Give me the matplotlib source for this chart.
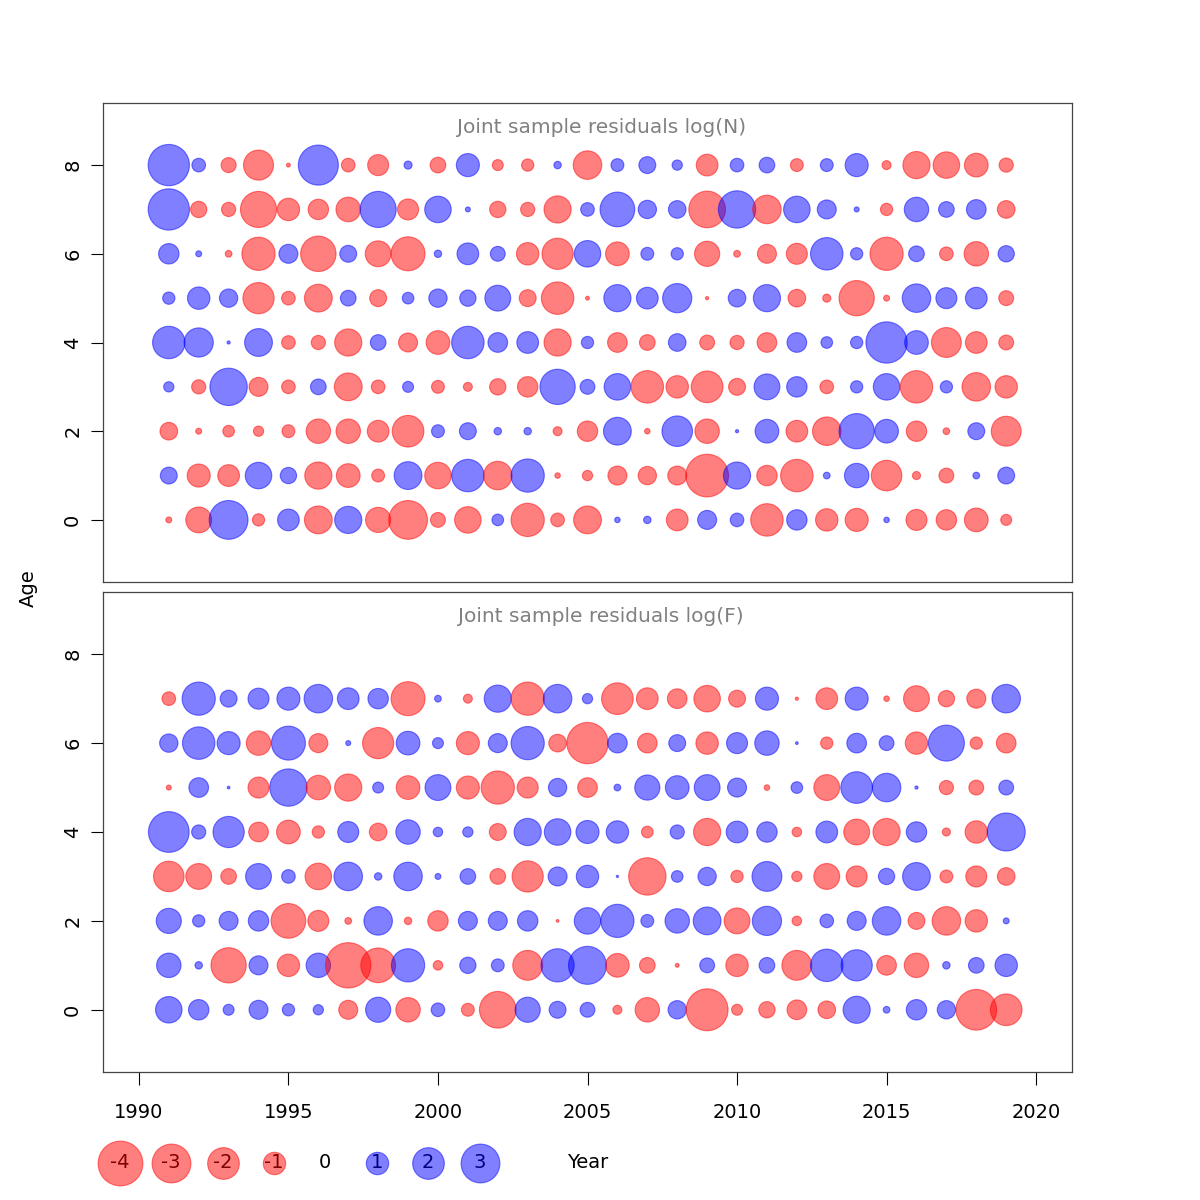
import matplotlib
matplotlib.use("Agg")
import matplotlib.pyplot as plt
import numpy as np

years = list(range(1991, 2020))

# joint sample residuals log(N), one list per age (0..8), years 1991-2019
resN = [
    [-0.07, -1.33, 3.0, -0.3, 0.94, -1.54, 1.47, -1.26, -3.0, -0.44, -1.4, 0.27, -2.2, -0.37, -1.54, 0.06, 0.11, -0.94, 0.72, 0.37, -2.1, 0.83, -1.0, -1.06, 0.06, -0.88, -0.83, -1.12, -0.24],
    [0.57, -1.06, -0.94, 1.4, 0.53, -1.47, -1.12, -0.33, 1.54, -1.4, 2.1, -1.62, 2.2, -0.06, -0.21, -0.72, -0.67, -0.72, -3.64, 1.47, -0.83, -2.1, 0.09, 1.19, -1.86, -0.13, -0.44, 0.09, 0.57],
    [-0.62, -0.07, -0.27, -0.21, -0.33, -1.19, -1.19, -0.94, -2.0, 0.33, 0.57, 0.11, 0.11, -0.16, -0.83, 1.54, -0.06, 1.86, -1.19, 0.02, 1.12, -0.94, -1.62, 2.48, 1.12, -0.83, -0.09, 0.57, -1.78],
    [0.21, -0.4, 2.78, -0.72, -0.37, 0.49, -1.54, -0.37, 0.24, -0.33, -0.16, -0.53, -0.83, 2.48, 0.44, 1.4, -2.1, -1.0, -2.0, -0.57, 1.33, 0.83, -0.37, 0.3, 1.4, -2.1, 0.3, -1.62, -1.0],
    [2.1, 1.7, 0.02, 1.54, -0.37, -0.4, -1.47, 0.49, -0.72, -1.12, 2.1, 0.77, 0.94, -1.47, 0.3, -0.77, -0.49, 0.62, -0.44, -0.4, -0.77, 0.77, 0.27, 0.3, 3.4, 1.12, -1.78, -0.94, -0.44],
    [0.3, 1.0, 0.67, -1.94, -0.37, -1.54, 0.49, -0.57, 0.27, 0.67, 0.53, 1.33, -0.57, -2.1, -0.03, 1.47, 0.94, 1.7, -0.02, 0.62, 1.47, -0.62, -0.13, -2.48, -0.07, 1.62, 0.88, 0.94, -0.44],
    [0.83, 0.07, -0.09, -2.2, 0.72, -2.5, 0.57, -1.33, -2.3, 0.11, 0.94, 0.44, -1.0, -1.94, 1.4, -1.12, 0.33, 0.3, -1.26, -0.09, -0.72, -0.88, 2.1, 0.3, -2.2, 0.49, -0.37, -1.19, 0.53],
    [3.4, -0.53, -0.4, -2.6, -1.0, -0.83, -1.2, 2.6, -0.88, 1.4, 0.05, -0.53, -0.4, -1.47, 0.37, 2.4, 0.67, 0.62, -2.68, 2.78, -1.62, 1.4, 0.72, 0.05, -0.3, 1.19, 0.49, 0.77, -0.62],
    [3.4, 0.37, -0.45, -1.8, -0.03, 3.2, -0.37, -0.88, 0.13, -0.49, 1.06, -0.24, -0.3, 0.11, -1.62, 0.33, 0.57, 0.21, -0.94, 0.37, 0.49, -0.33, 0.33, 1.06, -0.16, -1.47, -1.4, -1.12, -0.4],
]

# joint sample residuals log(F), one list per age (0..7)
resF = [
    [1.4, 0.83, 0.24, 0.72, 0.3, 0.21, -0.72, 1.26, -1.19, 0.37, -0.33, -2.68, 1.26, 0.57, 0.44, -0.16, -1.19, 0.67, -3.5, -0.24, -0.53, -0.77, -0.62, 1.47, 0.09, 0.83, 0.67, -3.3, -2.0],
    [1.19, 0.11, -2.48, 0.72, -1.0, 1.19, -4.1, -2.4, 2.2, -0.18, 0.53, 0.33, -1.78, 2.2, 2.88, -1.12, -0.49, -0.03, 0.44, -1.0, 0.49, -1.78, 2.1, 1.94, -0.77, -1.19, 0.11, 0.49, 1.0],
    [1.26, 0.3, 0.72, 0.83, -2.4, -0.88, -0.09, 1.62, -0.11, -0.83, 0.72, 0.72, 0.83, -0.015, 1.4, 2.2, 0.33, 1.19, 1.54, -1.33, 1.7, -0.18, 0.37, 0.72, 1.62, -0.57, -1.62, -1.0, 0.07],
    [-1.86, -1.33, -0.49, 1.33, 0.37, -1.4, 1.62, 0.11, 1.62, 0.07, 0.49, -0.49, -1.94, 0.72, 1.0, 0.01, -2.78, 0.27, 0.67, -0.3, 1.78, -0.21, -1.33, -0.88, 0.53, 1.54, -0.33, -0.88, -0.62],
    [3.3, 0.4, 1.94, -0.77, -1.12, -0.3, 0.88, -0.62, 1.19, 0.18, 0.21, -0.57, 1.47, 1.4, 1.06, 1.0, -0.27, 0.4, -1.47, 0.94, 0.83, -0.18, 0.94, -1.33, -1.47, 0.83, -0.13, -1.0, 2.88],
    [-0.05, 0.77, 0.015, -0.88, 2.78, -1.19, -1.47, 0.24, -1.12, 1.33, -1.06, -2.2, -0.88, 0.67, -0.77, 0.09, 1.26, 1.12, 1.33, 0.72, -0.06, 0.27, -1.33, 2.0, 1.62, 0.02, -0.4, -0.44, 0.44],
    [0.67, 2.1, 1.06, -1.19, 2.3, -0.72, 0.05, -1.94, 1.12, 0.24, -1.06, 0.72, 2.2, -0.62, -3.4, 0.77, -0.77, 0.57, -1.0, 0.88, 1.19, 0.015, -0.3, 0.77, 0.44, -1.0, 2.58, -0.3, -0.77],
    [-0.37, 2.2, 0.57, 0.88, 1.06, 1.62, 0.94, 0.83, -2.3, 0.09, -0.16, 1.47, -2.2, 1.62, 0.21, -2.0, -0.94, -0.77, -1.4, -0.57, 1.06, -0.02, -0.94, 1.06, -0.06, -1.33, -0.53, -0.72, 1.62],
]

legend_vals = [-4, -3, -2, -1, 0, 1, 2, 3]

RED = (1, 0, 0, 0.5)
BLUE = (0, 0, 1, 0.5)
SCALE = 260  # points^2 per unit of |residual|
FS = 14


def bubbles(ax, res, title):
    for age, row in enumerate(res):
        v = np.array(row)
        cols = [RED if x < 0 else BLUE for x in v]
        ax.scatter(years, [age] * len(v), s=SCALE * np.abs(v), c=cols,
                   edgecolors=cols, linewidths=0.8)
    ax.set_xlim(1988.8, 2021.2)
    ax.set_ylim(-1.4, 9.4)
    ax.set_yticks([0, 2, 4, 6, 8])
    ax.tick_params(axis="y", labelrotation=90, length=9, labelsize=FS, pad=6)
    for lab in ax.get_yticklabels():
        lab.set_va("center")
    for sp in ax.spines.values():
        sp.set_color("#444444")
        sp.set_linewidth(0.9)
    ax.text(0.514, 0.948, title, transform=ax.transAxes, ha="center",
            va="center", color="#808080", fontsize=14.5)


fig = plt.figure(figsize=(12, 12), dpi=100)
ax1 = fig.add_axes([103 / 1200, 1 - 582 / 1200, 969 / 1200, 479 / 1200])
ax2 = fig.add_axes([103 / 1200, 1 - 1072 / 1200, 969 / 1200, 480 / 1200])

bubbles(ax1, resN, "Joint sample residuals log(N)")
bubbles(ax2, resF, "Joint sample residuals log(F)")
ax1.set_xticks([])
ax2.set_xticks(range(1990, 2021, 5))
ax2.tick_params(axis="x", length=9, labelsize=FS, pad=13)

fig.text(28 / 1200, 1 - 588 / 1200, "Age", rotation=90, ha="center",
         va="center", fontsize=FS)

# size legend along the bottom, in figure pixel coordinates
leg = fig.add_axes([0, 0, 1, 1])
leg.set_xlim(0, 1200)
leg.set_ylim(1200, 0)
leg.axis("off")
leg_x = [120, 171, 223, 274, 325, 377, 428, 480]
for xp, v in zip(leg_x, legend_vals):
    if v != 0:
        col = RED if v < 0 else BLUE
        leg.scatter([xp], [1163], s=SCALE * abs(v), c=[col], edgecolors=[col],
                    linewidths=0.8)
    tcol = "#800000" if v < 0 else ("#000080" if v > 0 else "black")
    leg.text(xp, 1163, str(v), ha="center", va="center", fontsize=FS, color=tcol)
leg.text(588, 1163, "Year", ha="center", va="center", fontsize=FS)

fig.savefig("out.png", dpi=100)
